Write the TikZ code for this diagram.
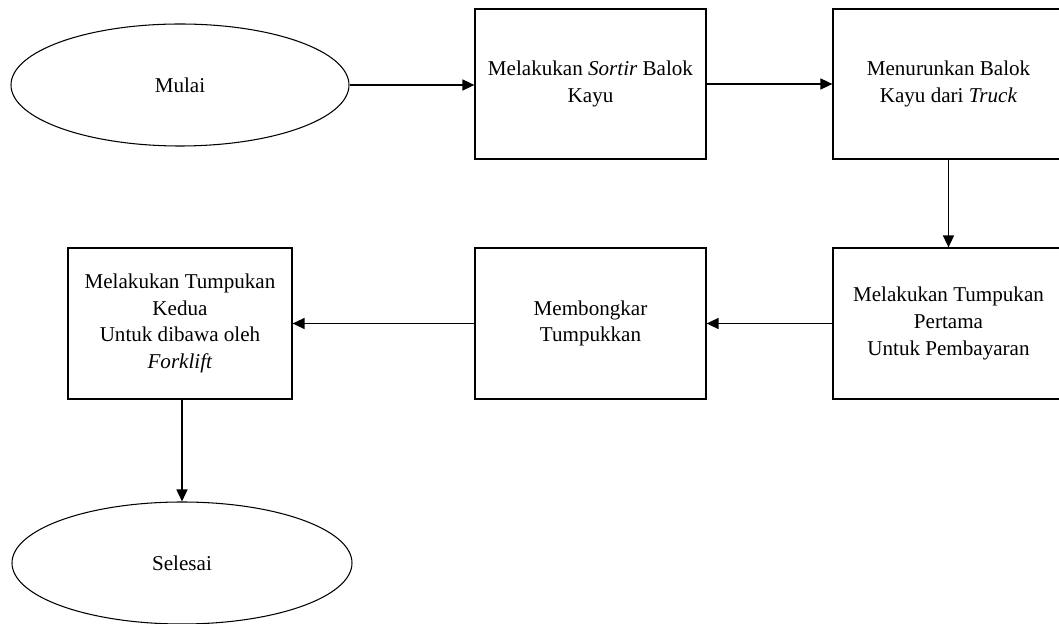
\documentclass[tikz,border=0pt]{standalone}
\usepackage{fontspec}
\setmainfont{Liberation Serif}
\usepackage{tikz}
\usetikzlibrary{arrows.meta,shapes.geometric}
\tikzset{terminal/.style={draw,ellipse,line width=0.6pt,minimum width=6.76cm,minimum height=2.44cm,inner sep=0pt}}
\tikzset{process/.style={draw,rectangle,line width=0.7pt,minimum width=4.62cm,minimum height=3cm,align=center,inner sep=0pt}}
\tikzset{flow/.style={line width=0.9pt,-{Triangle[length=0.24cm,width=0.22cm]}}}

\begin{document}
\begin{tikzpicture}[font=\fontsize{12}{15.2}\selectfont]
        \useasboundingbox (0,0) rectangle (21.18,-12.48);
        \node (mulai) at (3.6,-1.7) [terminal] {Mulai};
        \node (sortir) at (11.81,-1.68) [process] {Melakukan \textit{Sortir} Balok\\Kayu};
        \node (turun) at (18.97,-1.68) [process] {Menurunkan Balok\\Kayu dari \textit{Truck}};
        \node (pertama) at (18.97,-6.47) [process,minimum height=3.02cm] {Melakukan Tumpukan\\Pertama\\Untuk Pembayaran};
        \node (bongkar) at (11.81,-6.47) [process,minimum height=3.02cm] {Membongkar\\Tumpukkan};
        \node (kedua) at (3.6,-6.47) [process,minimum width=4.48cm,minimum height=3.02cm] {Melakukan Tumpukan\\Kedua\\Untuk dibawa oleh\\\textit{Forklift}};
        \node (selesai) at (3.64,-11.26) [terminal,minimum width=6.8cm] {Selesai};
        \draw [flow] (mulai.east) -- (mulai.east -| sortir.west);
        \draw [flow] (sortir.east) -- (turun.west);
        \draw [flow] (turun.south) -- (pertama.north);
        \draw [flow] (pertama.west) -- (bongkar.east);
        \draw [flow] (bongkar.west) -- (kedua.east);
        \draw [flow] (kedua.south -| selesai.north) -- (selesai.north);
    \end{tikzpicture}
\end{document}
